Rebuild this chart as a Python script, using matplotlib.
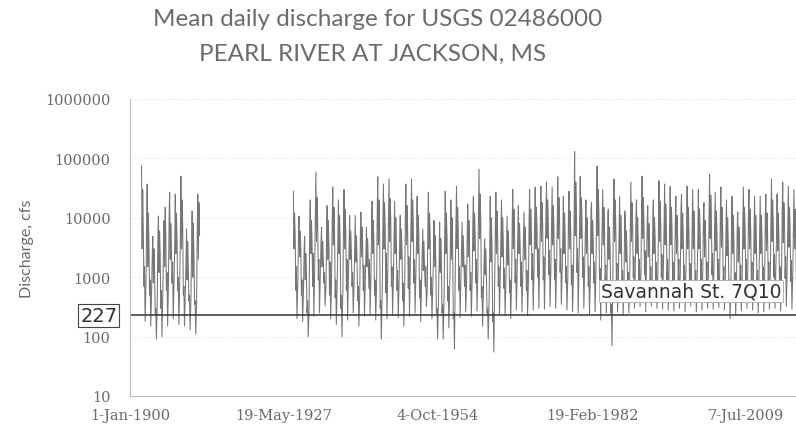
import matplotlib
matplotlib.use("Agg")
import matplotlib.pyplot as plt
import matplotlib.dates as mdates
import matplotlib.transforms as mtransforms
from datetime import date

# Daily discharge, read off the scanned chart as a handful of values per year, cfs
# (winter peak, late-winter dip, spring peak, May, June, summer bump,
#  late-summer low, fall, December rise)

# Early record 1902-1912
seg1_years = list(range(1902, 1913))
seg1_peak = [74000, 37000, 4900, 10700, 9000, 27000, 25000, 50000, 6500, 13000, 25000]
seg1_dip = [3000, 1500, 800, 1200, 1500, 2000, 2500, 3000, 900, 1000, 2000]
seg1_second = [30000, 12000, 3000, 6000, 15000, 8000, 12000, 20000, 4000, 8000, 18000]
seg1_may = [6000, 4000, 1200, 2500, 5000, 3000, 4000, 8000, 1500, 2500, 5000]
seg1_jun = [700, 500, 250, 300, 600, 800, 600, 500, 400, 350, 500]
seg1_aug = [1500, 900, 300, 600, 1200, 1800, 1000, 700, 500, 400, 600]
seg1_low = [180, 150, 91, 100, 150, 200, 160, 150, 130, 110, 100]
seg1_fall = [800, 600, 400, 700, 900, 1000, 800, 600, 500, 400, 500]
seg1_dec = [9000, 2500, 5000, 3000, 12000, 4000, 6000, 2000, 3500, 7000, 4000]

# Record 1929-2018
seg2_years = list(range(1929, 2019))
seg2_peak = [28000, 10700, 4900, 20000, 59000, 7000, 16000, 33000, 20000, 30000,
             11000, 11000, 12500, 7000, 19000, 49000, 37000, 45000, 19000, 11000,
             37000, 45000, 23000, 6500, 27000, 9000, 8500, 28000, 20000, 34000,
             8500, 17000, 23000, 66000, 4400, 23000, 27000, 20000, 10700, 30000,
             16000, 12500, 30000, 33000, 34000, 40000, 33000, 49000, 23000, 28000,
             130000, 50000, 20000, 18000, 74000, 30000, 14000, 45000, 23000, 10700,
             40000, 20000, 50000, 16000, 20000, 42000, 37000, 34000, 23000, 25000,
             34000, 30000, 30000, 18000, 54000, 27000, 33000, 20000, 23000, 12500,
             33000, 30000, 23000, 23000, 25000, 45000, 25000, 40000, 34000, 30000]
seg2_dip = [3000, 2200, 900, 2500, 4000, 1500, 2000, 3500, 2500, 3000,
            2000, 1800, 2200, 1500, 2500, 3500, 3000, 4000, 2500, 2000,
            3500, 4000, 2500, 1300, 3000, 1500, 1200, 2500, 2000, 3000,
            1500, 2200, 2800, 4500, 1100, 1800, 2500, 2200, 1600, 3000,
            2500, 2000, 3500, 3000, 4000, 4500, 3500, 4500, 2500, 3000,
            5000, 4500, 2500, 2500, 5000, 3500, 2000, 4000, 2500, 1800,
            4000, 2500, 4500, 2200, 2500, 4000, 3500, 3500, 2500, 3000,
            3000, 3000, 3000, 2200, 4500, 2800, 3200, 2300, 2500, 1800,
            3000, 3000, 2500, 2500, 2800, 4000, 2800, 3800, 3200, 3000]
seg2_second = [12000, 6000, 2500, 9000, 22000, 4000, 9000, 15000, 11000, 14000,
               6000, 5000, 7000, 4500, 9000, 20000, 18000, 21000, 10000, 6500,
               16000, 20000, 11000, 4000, 12000, 5000, 4500, 12000, 10000, 15000,
               5000, 9000, 12000, 25000, 3000, 10000, 13000, 10000, 6000, 14000,
               8000, 7000, 14000, 15000, 18000, 20000, 16000, 22000, 12000, 13000,
               40000, 22000, 10000, 9000, 30000, 15000, 7000, 20000, 11000, 6000,
               18000, 10000, 22000, 8000, 10000, 19000, 17000, 15000, 11000, 12000,
               15000, 13000, 14000, 9000, 24000, 13000, 15000, 10000, 11000, 7000,
               15000, 14000, 11000, 11000, 12000, 20000, 12000, 18000, 15000, 14000]
seg2_may = [5000, 3000, 1200, 4000, 9000, 2000, 3500, 6000, 4000, 5500,
            2500, 2000, 3000, 1800, 4000, 8000, 7000, 9000, 3500, 2500,
            6000, 8000, 4500, 1500, 5000, 2000, 1800, 4500, 3500, 6000,
            2000, 3500, 5000, 9000, 1200, 3000, 5000, 4000, 2500, 6000,
            3500, 3000, 6000, 7000, 8000, 9000, 7000, 10000, 5000, 6000,
            15000, 9000, 4000, 4000, 12000, 6000, 3000, 8000, 4500, 2500,
            8000, 4000, 10000, 3500, 4500, 8000, 7000, 6500, 4500, 5000,
            6500, 6000, 6000, 4000, 10000, 5500, 6500, 4000, 4500, 3000,
            6500, 6000, 4500, 4500, 5000, 9000, 5000, 8000, 6500, 6000]
seg2_jun = [600, 500, 250, 700, 900, 800, 500, 450, 300, 600,
            700, 400, 600, 650, 500, 300, 550, 700, 600, 400,
            650, 800, 450, 700, 500, 250, 250, 400, 200, 600,
            700, 600, 800, 450, 250, 180, 700, 650, 550, 800,
            700, 600, 900, 1000, 900, 1100, 900, 1200, 800, 750,
            1200, 1000, 700, 800, 900, 800, 250, 900, 700, 700,
            1000, 900, 1100, 800, 900, 1000, 900, 850, 900, 800,
            900, 700, 850, 900, 1100, 900, 800, 600, 700, 800,
            900, 850, 700, 750, 850, 1000, 800, 950, 850, 900]
seg2_aug = [1500, 900, 400, 2500, 2000, 1200, 1800, 900, 500, 2000,
            1200, 700, 1600, 2000, 900, 400, 2500, 1500, 1300, 800,
            2200, 2000, 900, 1500, 1000, 300, 350, 700, 250, 1500,
            1600, 1200, 2000, 700, 300, 250, 1500, 1400, 900, 2000,
            1800, 1300, 2500, 3000, 2200, 2800, 2000, 3000, 1500, 1600,
            3000, 2200, 1500, 1800, 1400, 1600, 350, 1700, 1300, 1200,
            2200, 2000, 2800, 1500, 1800, 2400, 2000, 1800, 2000, 1600,
            1700, 1300, 2000, 1800, 2500, 2000, 1500, 900, 1200, 1600,
            2000, 1800, 1300, 1500, 1800, 2400, 1500, 2200, 1900, 1800]
seg2_low = [200, 180, 100, 220, 250, 330, 200, 160, 100, 190,
            250, 150, 220, 240, 190, 91, 200, 230, 210, 150,
            220, 250, 180, 320, 200, 91, 91, 140, 62, 210,
            260, 220, 270, 150, 91, 55, 240, 230, 200, 280,
            260, 230, 280, 300, 290, 320, 300, 350, 280, 260,
            250, 300, 240, 260, 190, 250, 70, 260, 230, 250,
            300, 320, 260, 330, 300, 290, 280, 270, 300, 260,
            330, 260, 280, 300, 290, 310, 280, 200, 230, 270,
            300, 280, 250, 260, 290, 300, 270, 320, 290, 300]
seg2_fall = [900, 600, 300, 1500, 1200, 700, 1000, 800, 600, 1100,
             800, 500, 900, 1200, 700, 600, 1500, 1000, 800, 700,
             1500, 1200, 800, 600, 900, 400, 500, 700, 1500, 1000,
             800, 1000, 1200, 700, 400, 900, 1100, 900, 800, 1300,
             1200, 900, 1500, 1800, 2000, 1600, 1400, 1300, 1000, 1200,
             1800, 1500, 1000, 1200, 2000, 1300, 900, 1100, 1000, 900,
             1500, 1200, 1800, 1000, 1100, 1600, 1400, 1500, 1200, 1300,
             1200, 1000, 1300, 1100, 1700, 1200, 1000, 900, 1000, 1100,
             1300, 1200, 1000, 1100, 1200, 1500, 1100, 1400, 1300, 1200]
seg2_dec = [6000, 3000, 9000, 12000, 4000, 7000, 10000, 5000, 8000, 3500,
            4000, 6000, 3000, 9000, 14000, 8000, 12000, 6000, 5000, 15000,
            9000, 5000, 3000, 8000, 2500, 2000, 7000, 4000, 10000, 3000,
            6000, 9000, 14000, 2000, 3000, 8000, 6000, 4000, 9000, 7000,
            5000, 10000, 12000, 9000, 15000, 11000, 8000, 6000, 12000, 9000,
            10000, 6000, 14000, 20000, 9000, 12000, 15000, 7000, 13000, 8000,
            12000, 15000, 9000, 11000, 7000, 8000, 12000, 10000, 14000, 6000,
            8000, 5000, 13000, 15000, 9000, 12000, 6000, 8000, 7000, 10000,
            14000, 8000, 7000, 12000, 9000, 6000, 14000, 10000, 8000, 9000]

seven_q10 = 227
tick_dates = [date(1900, 1, 1), date(1927, 5, 19), date(1954, 10, 4),
              date(1982, 2, 19), date(2009, 7, 7)]

# month/day each yearly value is placed at
slots = [(1, 20), (2, 28), (4, 5), (5, 15), (6, 25), (8, 1), (9, 10), (11, 5), (12, 20)]


def build_series(years, cols, end=None):
    xs, ys = [], []
    for i, y in enumerate(years):
        for (m, d), col in zip(slots, cols):
            dt = date(y, m, d)
            if end is None or dt <= end:
                xs.append(dt)
                ys.append(col[i])
    return xs, ys


x1, y1 = build_series(seg1_years, [seg1_peak, seg1_dip, seg1_second, seg1_may, seg1_jun,
                                   seg1_aug, seg1_low, seg1_fall, seg1_dec],
                      end=date(1912, 6, 15))
x2, y2 = build_series(seg2_years, [seg2_peak, seg2_dip, seg2_second, seg2_may, seg2_jun,
                                   seg2_aug, seg2_low, seg2_fall, seg2_dec])

fig = plt.figure(figsize=(7.96, 4.31), dpi=100)
ax = fig.add_axes([130 / 796, 1 - 397 / 431, 666 / 796, 297 / 431])

ax.plot(x1, y1, color="#767676", lw=0.75)
ax.plot(x2, y2, color="#767676", lw=0.75)
ax.axhline(seven_q10, color="#333333", lw=1.1)

ax.set_yscale("log")
ax.set_ylim(10, 1e6)
yt = [10, 100, 1000, 10000, 100000, 1000000]
ax.set_yticks(yt)
ax.set_yticklabels([str(v) for v in yt])
ax.minorticks_off()
x0 = mdates.date2num(date(1900, 1, 1))
ax.set_xlim(x0, x0 + 43250)
ax.set_xticks([mdates.date2num(d) for d in tick_dates])
ax.set_xticklabels([f"{d.day}-{d.strftime('%b')}-{d.year}" for d in tick_dates])

for lab in ax.get_yticklabels() + ax.get_xticklabels():
    lab.set_family("DejaVu Serif")
    lab.set_fontsize(10.5)
    lab.set_color("#6a6a6a")
ax.tick_params(axis="y", length=0, pad=14)
ax.tick_params(axis="x", length=0, pad=9)

ax.grid(axis="y", color="#dddddd", lw=0.6, ls=":")
for s in ["top", "right"]:
    ax.spines[s].set_visible(False)
for s in ["left", "bottom"]:
    ax.spines[s].set_color("#bbbbbb")
    ax.spines[s].set_linewidth(0.8)

ax.set_ylabel("Discharge, cfs", family="Lato", fontsize=11.5, color="#6a6a6a", labelpad=8)

trans = mtransforms.blended_transform_factory(ax.transAxes, ax.transData)
ax.text(-0.047, seven_q10, "227", transform=trans, ha="center", va="center",
        fontsize=14, color="#333333", family="DejaVu Sans", clip_on=False,
        bbox=dict(boxstyle="square,pad=0.1", fc="white", ec="#444444", lw=0.8))
ax.text(0.842, 586, "Savannah St. 7Q10", transform=trans, ha="center", va="center",
        fontsize=13.5, color="#333333", family="DejaVu Sans",
        bbox=dict(boxstyle="square,pad=0.1", fc="white", ec="#aaaaaa", lw=0.6))

fig.text(0.474, 1 - 20 / 431, "Mean daily discharge for USGS 02486000",
         ha="center", va="center", family="Lato", fontsize=17.5, color="#6b6b6b")
fig.text(0.468, 1 - 54 / 431, "PEARL RIVER AT JACKSON, MS",
         ha="center", va="center", family="Lato", fontsize=17.5, color="#6b6b6b")

fig.savefig("out.png", dpi=100)
